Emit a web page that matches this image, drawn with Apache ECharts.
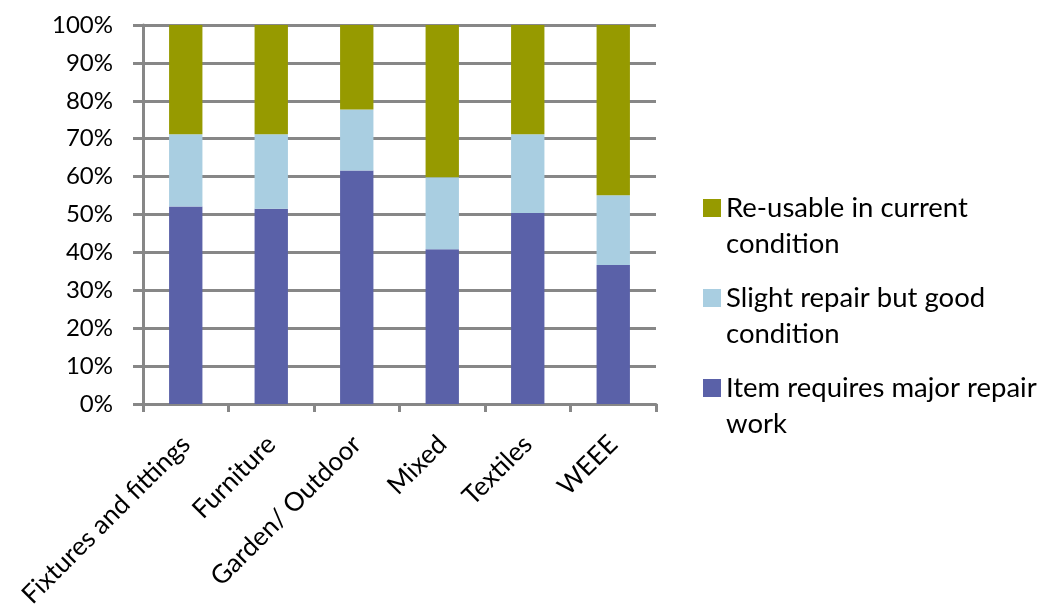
<!DOCTYPE html>
<html>
<head>
<meta charset="utf-8">
<script src="https://cdn.jsdelivr.net/npm/echarts@6/dist/echarts.min.js"></script>
<style>
  html, body { margin: 0; padding: 0; background: #ffffff; }
  #chart { width: 1042px; height: 606px; }
</style>
</head>
<body>
<div id="chart"></div>
<script>
// Condition of items by category (share of items, %)
const categories = ['Fixtures and fittings', 'Furniture', 'Garden/ Outdoor', 'Mixed', 'Textiles', 'WEEE'];
const majorRepair = [52.1, 51.5, 61.6, 40.8, 50.4, 36.7];
const slightRepair = [19.1, 19.7, 16.1, 19.0, 20.8, 18.4];
const reusable = [28.8, 28.8, 22.3, 40.2, 28.8, 44.9];
const seriesNames = ['Item requires major repair work', 'Slight repair but good condition', 'Re-usable in current condition'];
// A blank first line keeps the legend swatch level with the first line of text
const legendLabels = {
  'Re-usable in current condition': ' \nRe-usable in current\ncondition',
  'Slight repair but good condition': ' \nSlight repair but good\ncondition',
  'Item requires major repair work': ' \nItem requires major repair\nwork'
};

const gridGrey = '#878787';
const font = 'Lato, "Open Sans", sans-serif';

const chart = echarts.init(document.getElementById('chart'));
const barSeries = (name, data, color) => ({
  name: name,
  type: 'bar',
  stack: 'share',
  data: data,
  barCategoryGap: '61%',
  itemStyle: { color: color },
  emphasis: { disabled: true }
});

chart.setOption({
  animation: false,
  textStyle: { fontFamily: font },
  grid: {
    left: 143, right: 386, top: 25, bottom: 202,
    containLabel: false,
    outerBoundsMode: 'none'
  },
  legend: {
    orient: 'vertical',
    left: 698,
    top: 149,
    padding: 5,
    itemWidth: 18,
    itemHeight: 18,
    itemGap: -18,
    icon: 'rect',
    data: [seriesNames[2], seriesNames[1], seriesNames[0]],
    formatter: name => legendLabels[name],
    textStyle: {
      fontFamily: font,
      fontSize: 27.5,
      lineHeight: 36,
      color: '#000000'
    }
  },
  xAxis: {
    type: 'category',
    data: categories,
    axisLine: { lineStyle: { color: gridGrey, width: 3 } },
    axisTick: { show: true, length: 8, lineStyle: { color: gridGrey, width: 3 } },
    axisLabel: {
      rotate: 45,
      interval: 0,
      margin: 36,
      fontSize: 26,
      fontFamily: font,
      color: '#000000'
    }
  },
  yAxis: {
    type: 'value',
    min: 0,
    max: 100,
    interval: 10,
    axisLine: { show: true, lineStyle: { color: gridGrey, width: 3 } },
    axisTick: { show: true, length: 10, lineStyle: { color: gridGrey, width: 3 } },
    splitLine: { show: true, lineStyle: { color: gridGrey, width: 3 } },
    axisLabel: {
      formatter: '{value}%',
      margin: 30,
      fontSize: 24,
      fontFamily: font,
      color: '#000000'
    }
  },
  series: [
    barSeries(seriesNames[0], majorRepair, '#5A61A8'),
    barSeries(seriesNames[1], slightRepair, '#A9CEE1'),
    barSeries(seriesNames[2], reusable, '#969A00')
  ]
});
</script>
</body>
</html>
